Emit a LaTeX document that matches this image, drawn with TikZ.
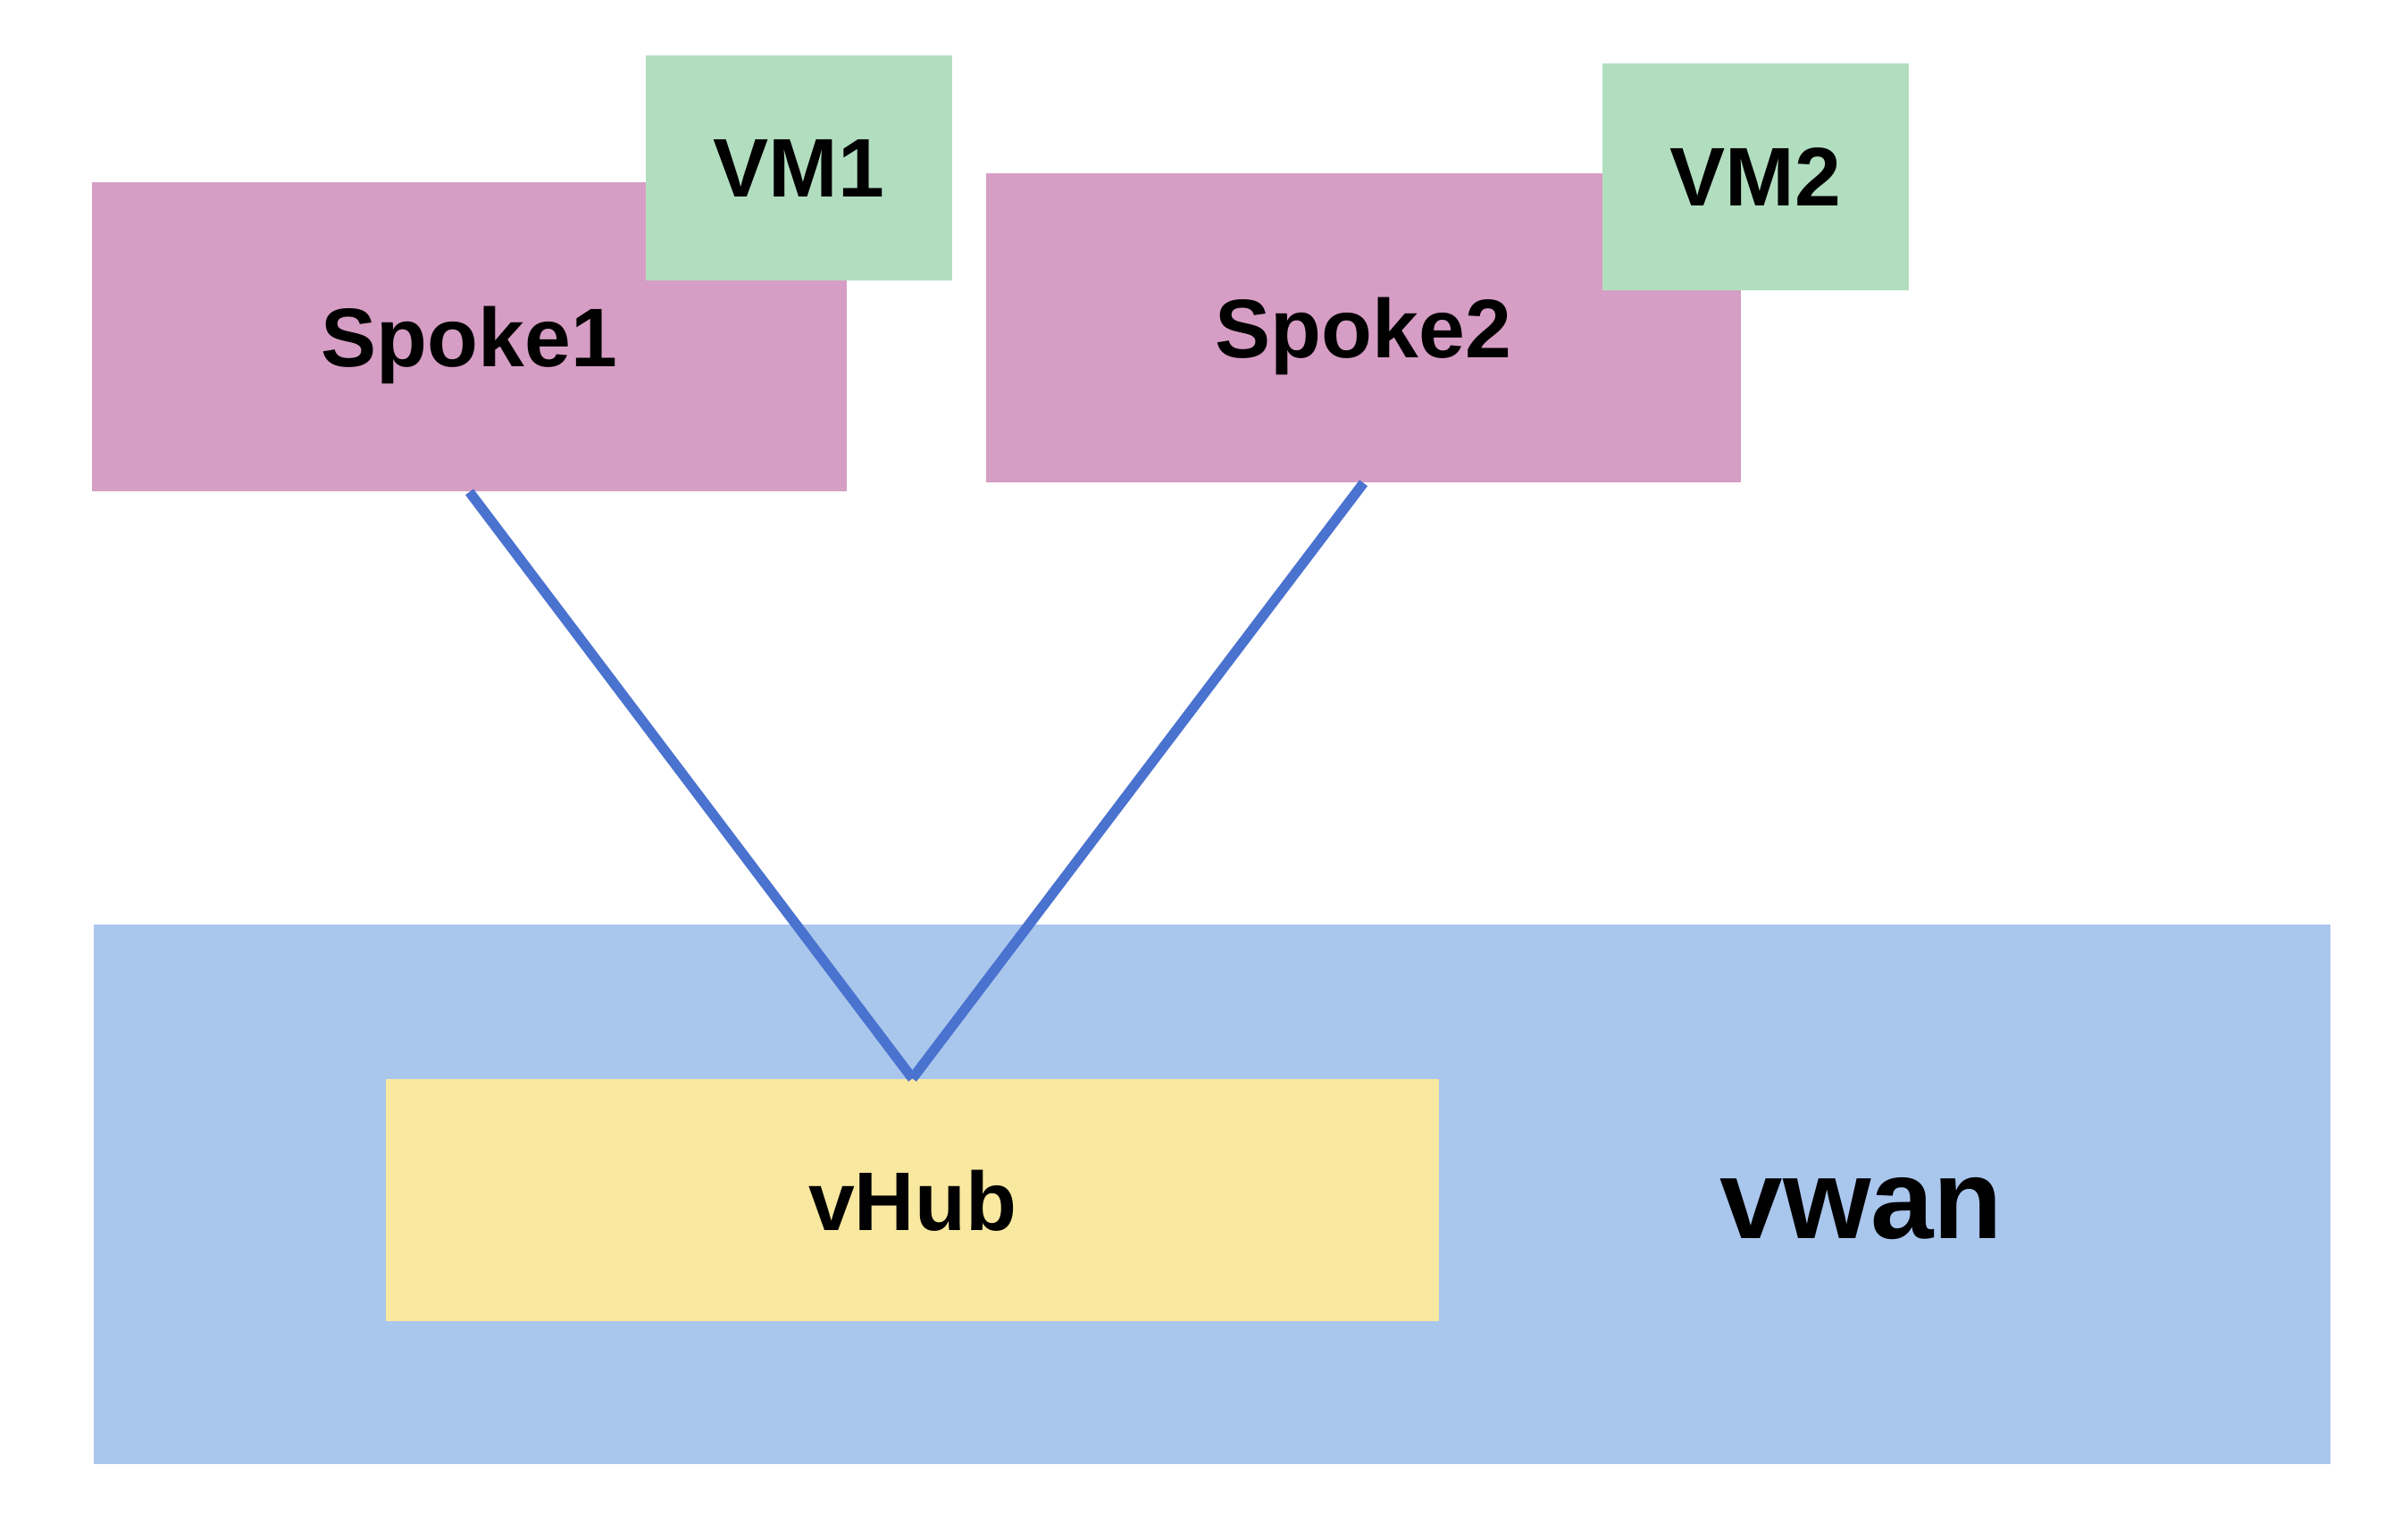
\documentclass[tikz,border=0pt]{standalone}
\usepackage{fontspec}
\setmainfont{Liberation Sans}
\usepackage{tikz}
\usetikzlibrary{positioning}
\definecolor{spokepink}{HTML}{D69EC4}
\definecolor{vmgreen}{HTML}{B2DEC0}
\definecolor{wanblue}{HTML}{A9C6ED}
\definecolor{hubyellow}{HTML}{F8E8A0}
\definecolor{linkblue}{HTML}{4A72CF}
\tikzstyle{box} = [inner sep=0pt,text depth=0pt,font=\fontsize{26.5}{30}\selectfont\bfseries]
\tikzstyle{link} = [line width=3.2pt,draw=linkblue]

\begin{document}
\begin{tikzpicture}
	\useasboundingbox (0,0) rectangle (26.88,-17.23);

	%Nodes
	\node [box,fill=wanblue,minimum width=25.04cm,minimum height=6.04cm] (vwan) at (13.57,-13.37) {};
	\node [anchor=base,font=\fontsize{36}{40}\selectfont\bfseries] (vwanlabel) at (20.84,-13.86) {vwan};
	\node [box,fill=hubyellow,minimum width=11.79cm,minimum height=2.71cm] (vHub) at (10.215,-13.435) {vHub};
	\node [box,fill=spokepink,minimum width=8.45cm,minimum height=3.46cm] (Spoke1) at (5.255,-3.77) {Spoke1};
	\node [box,fill=spokepink,minimum width=8.45cm,minimum height=3.46cm] (Spoke2) at (15.265,-3.67) {Spoke2};
	\node [box,fill=vmgreen,minimum width=3.43cm,minimum height=2.52cm] (VM1) at (8.945,-1.88) {VM1};
	\node [box,fill=vmgreen,minimum width=3.43cm,minimum height=2.54cm] (VM2) at (19.655,-1.98) {VM2};

	%Lines
	\draw[link] (Spoke1.south) -- (vHub.north);
	\draw[link] (Spoke2.south) -- (vHub.north);
\end{tikzpicture}
\end{document}
